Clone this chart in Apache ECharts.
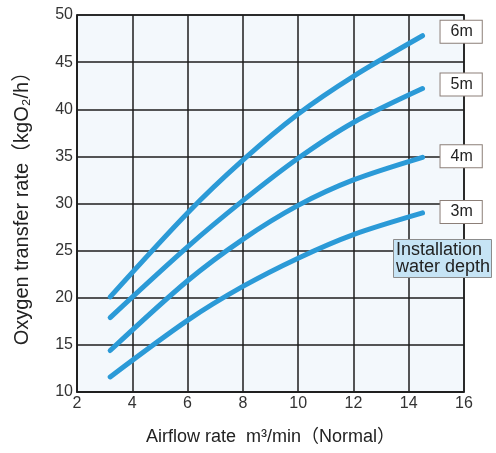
<!DOCTYPE html>
<html>
<head>
<meta charset="utf-8">
<script src="https://cdn.jsdelivr.net/npm/echarts@6/dist/echarts.min.js"></script>
<style>
  html, body { margin: 0; padding: 0; background: #fff; }
  #chart { width: 496px; height: 453px; }
</style>
</head>
<body>
<div id="chart"></div>
<script>
// airflow rate (m3/min) where each curve was read
const airflow = [3.2, 6, 8, 10, 12, 14.5];

// oxygen transfer rate (kgO2/h) by installation depth
const depth6m = [20.1, 29.0, 34.6, 39.5, 43.5, 47.8];
const depth5m = [17.9, 25.4, 30.3, 34.8, 38.6, 42.2];
const depth4m = [14.4, 21.8, 26.2, 29.8, 32.5, 34.9];
const depth3m = [11.6, 17.6, 21.2, 24.2, 26.7, 29.0];

const depthNames = ['6m', '5m', '4m', '3m'];
const depthData = [depth6m, depth5m, depth4m, depth3m];
const labelShift = [-4, -4, -1, -1];

const font = 'Liberation Sans, Arial, DejaVu Sans, Noto Sans CJK JP, sans-serif';

const chart = echarts.init(document.getElementById('chart'));

const makeSeries = (name, vals, i) => ({
    name: name,
    type: 'line',
    smooth: 0.3,
    showSymbol: false,
    symbol: 'none',
    data: airflow.map((x, k) => [x, vals[k]]),
    lineStyle: { color: '#2b9ad7', width: 5, cap: 'round' },
    endLabel: {
        show: true,
        formatter: '{a}',
        distance: 18,
        offset: [0, labelShift[i]],
        color: '#222',
        fontFamily: font,
        fontSize: 16,
        lineHeight: 16,
        backgroundColor: '#fff',
        borderColor: '#8c7f78',
        borderWidth: 1,
        padding: [3, 9, 3, 10]
    },
    z: 3
});

const option = {
    animation: false,
    backgroundColor: '#fff',
    title: {
        text: 'Installation\nwater depth',
        left: 393,
        top: 240,
        backgroundColor: '#c6e4f5',
        borderColor: '#8c8c8c',
        borderWidth: 1,
        padding: [2, 2, 2, 3],
        textStyle: {
            fontFamily: font,
            fontSize: 18,
            lineHeight: 16.5,
            fontWeight: 'normal',
            color: '#222'
        }
    },
    grid: {
        left: 77,
        right: 32,
        top: 15,
        bottom: 61,
        show: true,
        backgroundColor: '#f3f8fc',
        borderColor: '#1e1e1e',
        borderWidth: 1.5
    },
    xAxis: {
        type: 'value',
        min: 2,
        max: 16,
        interval: 2,
        name: 'Airflow rate  m³/min（Normal）',
        nameLocation: 'middle',
        nameGap: 36,
        nameTextStyle: { fontFamily: font, fontSize: 18, color: '#222' },
        axisLine: { show: true, lineStyle: { color: '#1e1e1e', width: 1.5 } },
        axisTick: { show: false },
        axisLabel: { fontFamily: font, fontSize: 16, color: '#333', margin: 4 },
        splitLine: { show: true, lineStyle: { color: '#1e1e1e', width: 1.5 } }
    },
    yAxis: {
        type: 'value',
        min: 10,
        max: 50,
        interval: 5,
        name: 'Oxygen transfer rate（kgO₂/h）',
        nameLocation: 'middle',
        nameGap: 45,
        nameTextStyle: { fontFamily: font, fontSize: 20, color: '#222' },
        axisLine: { show: true, lineStyle: { color: '#1e1e1e', width: 1.5 } },
        axisTick: { show: false },
        axisLabel: { fontFamily: font, fontSize: 16, color: '#333', margin: 4 },
        splitLine: { show: true, lineStyle: { color: '#1e1e1e', width: 1.5 } }
    },
    series: depthNames.map((n, i) => makeSeries(n, depthData[i], i))
};

chart.setOption(option);
</script>
</body>
</html>
